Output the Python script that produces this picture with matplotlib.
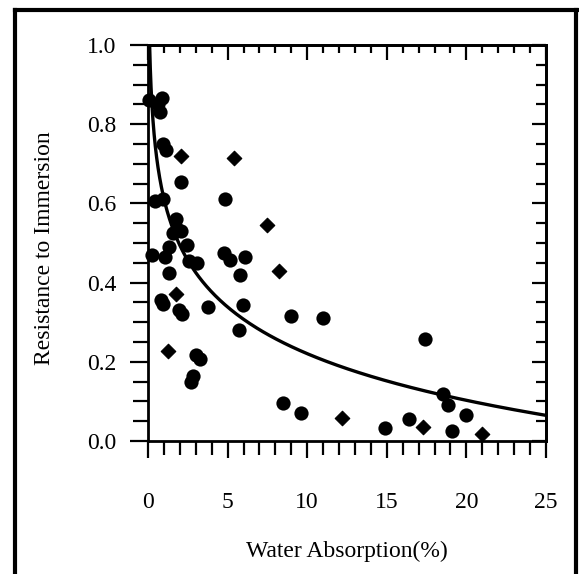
import numpy as np
import matplotlib
matplotlib.use("Agg")
import matplotlib.pyplot as plt
from matplotlib.lines import Line2D
from matplotlib.ticker import MultipleLocator, FormatStrFormatter

# ---- data ----
circle_x = [0.05, 0.6, 0.9, 0.75, 0.95, 1.1, 2.1, 4.85, 0.45, 0.95,
            1.75, 1.85, 1.6, 2.1, 2.45, 1.3, 0.25, 1.05, 2.6, 3.1,
            4.8, 5.15, 6.1, 1.3, 5.8, 0.8, 0.95, 1.95, 2.15, 3.75,
            5.95, 5.7, 3.0, 3.25, 2.85, 2.7, 9.0, 11.0, 17.4, 8.5,
            9.6, 14.9, 16.4, 18.55, 18.85, 19.1, 20.0]
circle_y = [0.86, 0.85, 0.865, 0.83, 0.75, 0.735, 0.655, 0.61, 0.605, 0.61,
            0.56, 0.535, 0.525, 0.53, 0.495, 0.49, 0.47, 0.465, 0.455, 0.45,
            0.475, 0.458, 0.465, 0.424, 0.419, 0.355, 0.345, 0.33, 0.32, 0.338,
            0.343, 0.28, 0.218, 0.208, 0.165, 0.148, 0.316, 0.311, 0.258, 0.096,
            0.071, 0.034, 0.056, 0.118, 0.09, 0.024, 0.066]

diamond_x = [2.1, 5.4, 7.5, 8.2, 1.75, 1.25, 12.2, 17.3, 21.0]
diamond_y = [0.72, 0.715, 0.545, 0.43, 0.372, 0.228, 0.058, 0.035, 0.018]

# logarithmic fit: y = fit_a - fit_b * ln(x)
fit_a = 0.612
fit_b = 0.170
fit_xmin, fit_xmax = 0.102, 25.0

x_ticks = [0, 5, 10, 15, 20, 25]
y_ticks = [0.0, 0.2, 0.4, 0.6, 0.8, 1.0]

# ---- figure ----
W, H = 579, 574
fig = plt.figure(figsize=(W / 100, H / 100), dpi=100)
fig.patch.set_facecolor("white")
ax = fig.add_axes([148 / W, 1 - 441 / H, 398 / W, 396 / H])

font = "Liberation Serif"
fs = 17

ax.scatter(circle_x, circle_y, s=105, marker="o", color="black", zorder=3,
           linewidths=0, clip_on=False)
ax.scatter(diamond_x, diamond_y, s=55, marker="D", color="black", zorder=3,
           linewidths=0.8, edgecolors="black", joinstyle="round", clip_on=False)

xf = np.geomspace(fit_xmin, fit_xmax, 400)
yf = fit_a - fit_b * np.log(xf)
ax.plot(xf, yf, color="black", lw=2.4, zorder=2)

ax.set_xlim(0, 25)
ax.set_ylim(0, 1.0)

for sp in ax.spines.values():
    sp.set_linewidth(2.0)

ax.set_xticks(x_ticks)
ax.set_yticks(y_ticks)
ax.xaxis.set_minor_locator(MultipleLocator(1))
ax.yaxis.set_minor_locator(MultipleLocator(0.05))
ax.yaxis.set_major_formatter(FormatStrFormatter("%.1f"))
ax.tick_params(axis="x", which="major", direction="out", length=12.5, width=1.6,
               pad=24, labelsize=fs, top=False)
ax.tick_params(axis="x", which="minor", direction="out", length=10, width=1.6, top=False)
ax.tick_params(axis="y", which="major", direction="out", length=13, width=1.6,
               pad=10, labelsize=fs, right=False)
ax.tick_params(axis="y", which="minor", direction="out", length=10.5, width=1.6, right=False)
for lab in ax.get_xticklabels() + ax.get_yticklabels():
    lab.set_fontfamily(font)

secx = ax.secondary_xaxis("top")
secx.set_xticks(x_ticks)
secx.xaxis.set_minor_locator(MultipleLocator(1))
secx.tick_params(which="major", direction="in", length=11, width=1.6, labeltop=False)
secx.tick_params(which="minor", direction="in", length=6, width=1.6)
secx.spines["top"].set_linewidth(2.0)

secy = ax.secondary_yaxis("right")
secy.set_yticks(y_ticks)
secy.yaxis.set_minor_locator(MultipleLocator(0.05))
secy.tick_params(which="major", direction="in", length=10, width=1.6, labelright=False)
secy.tick_params(which="minor", direction="in", length=7.5, width=1.6)
secy.spines["right"].set_linewidth(2.0)

ax.set_xlabel("Water Absorption(%)", fontsize=fs, fontfamily=font, va="center")
ax.xaxis.set_label_coords(0.5, (441 - 551) / 396)
ax.set_ylabel("Resistance to Immersion", fontsize=fs, fontfamily=font,
              va="center", ha="center")
ax.yaxis.set_label_coords((45 - 148) / 398, (441 - 248) / 396)

# outer frame
bw = 3.0
fig.add_artist(Line2D([15 / W, 15 / W], [0, 1 - 10 / H], color="black", lw=bw))
fig.add_artist(Line2D([15 / W, 1.0], [1 - 10 / H, 1 - 10 / H], color="black", lw=bw))
fig.add_artist(Line2D([576 / W, 576 / W], [0, 1 - 10 / H], color="black", lw=bw))

fig.savefig("out.png", dpi=100)
